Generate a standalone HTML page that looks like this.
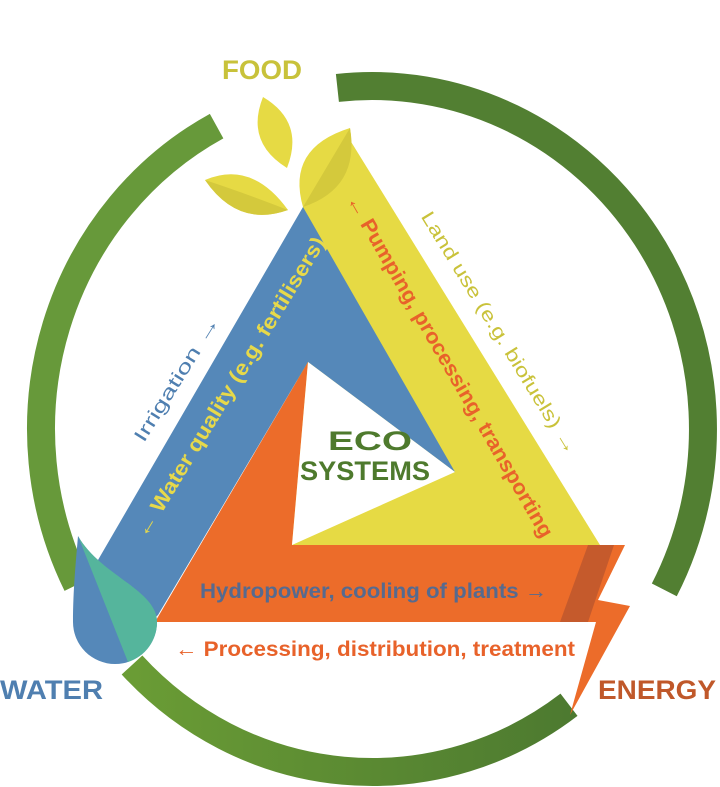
<!DOCTYPE html>
<html><head><meta charset="utf-8"><style>
html,body{margin:0;padding:0;background:#fff;}
svg{display:block;}
text{font-family:"Liberation Sans","DejaVu Sans",sans-serif;}
</style></head><body>
<svg width="720" height="787" viewBox="0 0 720 787" xmlns="http://www.w3.org/2000/svg">
<defs>
<linearGradient id="gb" x1="0" y1="0" x2="1" y2="0"><stop offset="0" stop-color="#6a9c35"/><stop offset="1" stop-color="#4d7a30"/></linearGradient>
</defs>
<path d="M337.4,87.9 A331,343 0 0 1 664.3,589.9" fill="none" stroke="#527f32" stroke-width="28"/>
<path d="M77.1,584.7 A331,343 0 0 1 216.6,126.1" fill="none" stroke="#67993a" stroke-width="28"/>
<path d="M569,704.8 A331,343 0 0 1 132,665" fill="none" stroke="url(#gb)" stroke-width="28"/>

<polygon points="303,207 345,132 600,545 292,545" fill="#e6da44"/>
<polygon points="303,207 455,472 308,362 158,615 130,640 98,560" fill="#5588b9"/>
<polygon points="308,362 292,545 625,545 598,600 630,606 570,715 596,622 155,622" fill="#ec6c2a"/>
<polygon points="588,545 614,545 588,622 560,622" fill="#c55a2c"/>
<polygon points="308,362 455,472 292,545" fill="#fff"/>

<path d="M78,536 C100,575 157,590 157,622 A42,42 0 0 1 73,622 C73,590 76,560 78,536 Z" fill="#5588b9"/>
<path d="M78,536 C100,575 157,590 157,622 A42,42 0 0 1 128,662 Z" fill="#55b59c"/>

<path d="M263,97 Q305,122 287,168 Q245,142 263,97 Z" fill="#e6da44"/>
<path d="M205,180 Q252,160 288,210 Q238,228 205,180 Z" fill="#e6da44"/>
<path d="M205,180 Q250,195 288,210 Q238,228 205,180 Z" fill="#d4c93c"/>
<path d="M350,128 Q360,188 303,207 Q286,148 350,128 Z" fill="#e6da44"/>
<path d="M350,128 Q360,188 303,207 Z" fill="#d4c93c"/>

<text x="222" y="79" font-size="27" font-weight="bold" fill="#c8c23a" textLength="80" lengthAdjust="spacingAndGlyphs">FOOD</text>
<text x="0" y="699" font-size="27" font-weight="bold" fill="#4f7fb0" textLength="103" lengthAdjust="spacingAndGlyphs">WATER</text>
<text x="598" y="699" font-size="27" font-weight="bold" fill="#c0582a" textLength="118" lengthAdjust="spacingAndGlyphs">ENERGY</text>
<text x="328" y="450" font-size="27" font-weight="bold" fill="#4e7a2d" textLength="84" lengthAdjust="spacingAndGlyphs">ECO</text>
<text x="300" y="480" font-size="27" font-weight="bold" fill="#4e7a2d" textLength="130" lengthAdjust="spacingAndGlyphs">SYSTEMS</text>

<text transform="translate(450,366) rotate(60)" font-size="21" font-weight="bold" fill="#e8622a" text-anchor="middle" dy="7" textLength="392" lengthAdjust="spacingAndGlyphs">← Pumping, processing, transporting</text>
<text transform="translate(499,333) rotate(58.5)" font-size="19" fill="#c9c23a" text-anchor="middle" dy="6" textLength="281" lengthAdjust="spacingAndGlyphs">Land use (e.g. biofuels) →</text>
<text transform="translate(230,387) rotate(-58.8)" font-size="21" font-weight="bold" fill="#e7d94a" text-anchor="middle" dy="7" textLength="347" lengthAdjust="spacingAndGlyphs">← Water quality (e.g. fertilisers)</text>
<text transform="translate(177,379) rotate(-58)" font-size="19" fill="#4f7fb0" text-anchor="middle" dy="6" textLength="144" lengthAdjust="spacingAndGlyphs">Irrigation →</text>
<text x="200" y="598" font-size="21" font-weight="bold" fill="#566a8f" textLength="347" lengthAdjust="spacingAndGlyphs">Hydropower, cooling of plants →</text>
<text x="175" y="656" font-size="21" font-weight="bold" fill="#e8622a" textLength="400" lengthAdjust="spacingAndGlyphs">← Processing, distribution, treatment</text>
</svg>
</body></html>
